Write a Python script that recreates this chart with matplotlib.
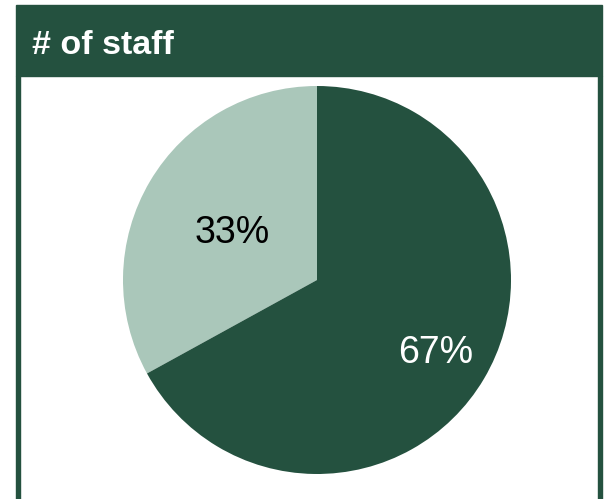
import matplotlib.pyplot as plt
from matplotlib.patches import Rectangle
import numpy as np

# --- data ---
titre = "# of staff"
parts = [33, 67]
etiquettes = ["33%", "67%"]

# --- style ---
vert_fonce = '#24513F'
vert_clair = '#AAC7BA'
couleurs = [vert_clair, vert_fonce]
couleurs_txt = ['black', 'white']
dist_txt = [0.51, 0.71]

W, H = 608, 499
fig = plt.figure(figsize=(W / 100, H / 100), dpi=100)
fig.patch.set_facecolor('white')

# bandeau du titre + bordures laterales
fig.patches.append(Rectangle((16 / W, 1 - 76 / H), 586 / W, 71 / H,
                             transform=fig.transFigure, color=vert_fonce, zorder=0))
fig.patches.append(Rectangle((16 / W, 0), 4 / W, 1 - 76 / H,
                             transform=fig.transFigure, color=vert_fonce, zorder=0))
fig.patches.append(Rectangle((598 / W, 0), 4 / W, 1 - 76 / H,
                             transform=fig.transFigure, color=vert_fonce, zorder=0))
fig.text(32 / W, 1 - 54 / H, titre, color='white', fontsize=24.5, fontweight='bold',
         family='Liberation Sans', ha='left', va='baseline')

# --- camembert ---
cx, cy, r = 317, 280, 194
ax = fig.add_axes([(cx - r) / W, (H - cy - r) / H, 2 * r / W, 2 * r / H])
wedges, _ = ax.pie(parts, colors=couleurs, startangle=90, counterclock=True,
                   radius=1, wedgeprops=dict(linewidth=0))
ax.set_xlim(-1, 1)
ax.set_ylim(-1, 1)
ax.set_aspect('equal')
ax.axis('off')

for w, lab, c, d in zip(wedges, etiquettes, couleurs_txt, dist_txt):
    ang = np.deg2rad((w.theta1 + w.theta2) / 2)
    ax.text(d * np.cos(ang), d * np.sin(ang) - 0.015, lab, color=c, fontsize=27,
            family='Liberation Sans', ha='center', va='center')

fig.savefig('out.png', dpi=100)
